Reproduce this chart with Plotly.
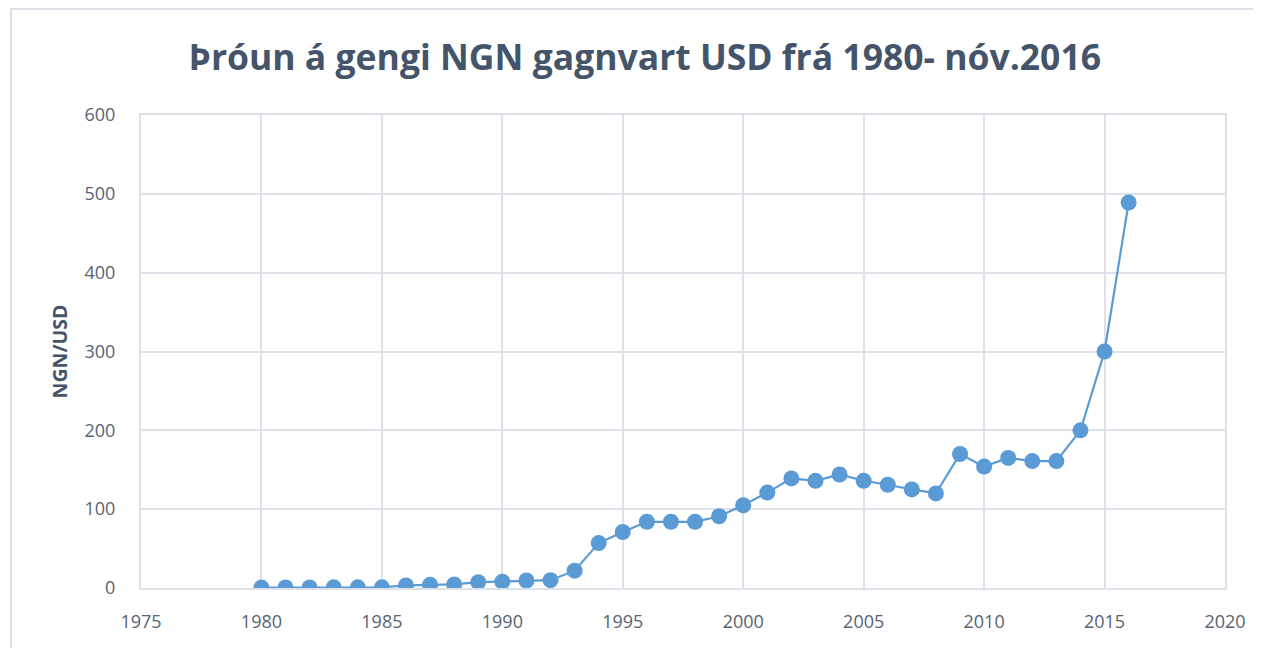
import plotly.graph_objects as go

years = list(range(1980, 2017))
ngn_usd = [
    0.5, 0.6, 0.7, 0.9, 0.8, 0.9, 3.3, 4.0, 4.5, 7.4,
    8.0, 9.5, 9.9, 22.0, 57.0, 71.0, 84.0, 84.0, 84.0, 91.0,
    105.0, 121.0, 139.0, 136.0, 144.0, 136.0, 131.0, 125.0, 120.0, 170.0,
    154.0, 165.0, 161.0, 161.0, 200.0, 300.0, 489.0,
]

title_text = "Þróun á gengi NGN gagnvart USD frá 1980- nóv.2016"
blue = "#5b9bd5"
grid = "#dde1e8"
tick_color = "#586374"

fig = go.Figure(go.Scatter(
    x=years, y=ngn_usd, mode="lines+markers",
    line=dict(color=blue, width=2.2),
    marker=dict(color=blue, size=16),
    showlegend=False,
))

fig.update_layout(
    width=1261, height=648,
    margin=dict(l=133, r=44, t=107, b=68),
    paper_bgcolor="white", plot_bgcolor="white",
    font=dict(family="Open Sans, sans-serif", color=tick_color, size=17),
    title=dict(
        text=f"<b>{title_text}</b>", x=0.505, xanchor="center",
        y=0.923, yanchor="middle",
        font=dict(size=35.5, color="#44546a", family="Open Sans, sans-serif"),
    ),
)
fig.update_xaxes(
    range=[1975, 2020], tick0=1975, dtick=5, showgrid=True,
    gridcolor=grid, gridwidth=2, zeroline=False, showline=True,
    linecolor=grid, linewidth=2, mirror=True, ticks="",
    ticklabelstandoff=16,
    tickfont=dict(size=18, color=tick_color),
)
fig.update_yaxes(
    range=[0, 600], dtick=100, showgrid=True, gridcolor=grid, gridwidth=2,
    zeroline=False, showline=True, linecolor=grid, linewidth=2, mirror=True,
    ticks="", ticklabelstandoff=20, tickfont=dict(size=18, color=tick_color),
    title=dict(text="<b>NGN/USD</b>", font=dict(size=19.5, color="#44546a"), standoff=12),
)

# faint outer frame of the chart object
fig.add_shape(type="rect", xref="paper", yref="paper",
              x0=-0.12, x1=1.2, y0=-0.4, y1=1.224,
              line=dict(color="#dde1e8", width=2), layer="below")

fig.write_html("out.html")
